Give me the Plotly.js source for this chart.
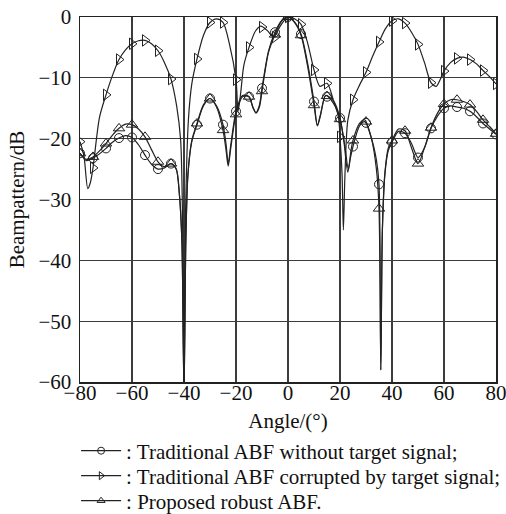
<!DOCTYPE html>
<html>
<head>
<meta charset="utf-8">
<script src="https://cdn.plot.ly/plotly-3.0.1.min.js"></script>
<style>html,body{margin:0;padding:0;background:#fff;}#chart{width:506px;height:514px;}</style>
</head>
<body>
<div id="chart"></div>
<script>
// Marker positions (every 5 degrees)
const markerAngles = [-80,-75,-70,-65,-60,-55,-50,-45,-40,-35,-30,-25,-20,-15,-10,-5,0,5,10,15,20,25,30,35,40,45,50,55,60,65,70,75,80];
const markerWithout = [-22.4,-23.2,-21.6,-19.9,-19.8,-22.7,-25.0,-24.1,null,-17.7,-13.4,-17.7,-15.5,-13.1,-11.7,-2.5,0,-2.8,-13.9,-13.1,-16.6,-21.3,-17.4,-27.5,-20.6,-19.1,-23.1,-18.3,-15.0,-14.8,-15.5,-17.5,-19.3];
const markerCorrupted = [-20.5,-24.8,-12.8,-7.0,-4.4,-3.85,-5.55,-10.2,null,-6.9,-0.9,-0.9,-10.3,-5.0,-1.65,-3.3,0,-1.2,-8.7,-10.9,-19.7,-13.6,-9.1,-4.1,-0.6,-1.0,-4.5,-10.8,-8.9,-6.8,-7.0,-8.8,-11.0];
const markerProposed = [-22.4,-23.0,-20.8,-18.3,-17.7,-19.7,-23.8,-24.1,null,-17.5,-13.4,-18.6,-16.0,-13.1,-12.2,-2.9,0,-3.0,-14.5,-13.0,-16.8,-20.3,-17.2,-31.5,-20.3,-18.7,-24.1,-18.2,-14.3,-13.6,-14.4,-16.9,-19.2];

// Curve samples
const lineAngleWithout = [-80,-77.5,-75,-72.5,-70,-67.5,-65,-62.5,-60,-57.5,-55,-52.5,-50,-47.5,-45,-43,-41.8,-40.8,-40,-39.3,-38.5,-37,-35,-32.5,-30,-27.5,-25,-23.8,-23,-22,-20,-17.5,-15,-13.5,-12.3,-11,-10,-7.5,-5,-2.5,0,2.5,5,7.5,10,11.3,12.5,14.5,17.5,20,21.5,23,24,25,27.5,29.5,32,34,35,35.7,36.3,37.3,38.6,40,42.5,45,47.5,50,52.5,55,57.5,60,62.5,65,67.5,70,72.5,75,77.5,80];
const lineDbWithout = [-22.4,-23.6,-23.2,-22.5,-21.6,-20.6,-19.9,-19.5,-19.8,-21.0,-22.7,-24.2,-25.0,-24.8,-24.1,-25.0,-29,-37,-62,-37,-26,-20.5,-17.7,-14.6,-13.4,-14.6,-17.7,-21,-24.1,-21,-15.5,-12.9,-13.1,-14.8,-15.7,-14.5,-11.7,-5.6,-2.5,-0.6,0,-0.8,-2.8,-7.5,-13.9,-17.8,-16,-12.9,-13.8,-16.6,-20.5,-25.5,-23.2,-21.3,-17.9,-17.2,-19.8,-23.5,-27.5,-58,-35,-25.7,-21.9,-20.6,-18.8,-19.1,-20.8,-23.1,-21.5,-18.3,-16.3,-15.0,-14.6,-14.8,-15.0,-15.5,-16.4,-17.5,-18.4,-19.3];

const lineAngleCorrupted = [-80,-78.5,-77,-76,-75,-72.5,-70,-67.5,-65,-62.5,-60,-57.5,-55,-52.5,-50,-47.5,-45,-42.8,-41.3,-40.6,-40,-39.4,-38.3,-37,-35,-32.5,-30,-27.5,-25,-22.5,-20,-19.2,-18.2,-17,-15,-12.5,-10.5,-8,-5.5,-3,0,2.5,5,7.5,10,12.3,15,17.4,19.4,20,20.8,21.3,21.9,23,25,27.5,30,32.5,35,37.5,40,42.5,45,47.5,50,52.5,55,57,58.5,60,62.5,65,67.5,70,72.5,75,77.5,80];
const lineDbCorrupted = [-20.5,-22.8,-28.2,-27.2,-24.8,-16.5,-12.8,-9.6,-7.0,-5.4,-4.4,-3.9,-3.85,-4.4,-5.55,-7.5,-10.2,-14.7,-20.2,-32,-62,-32,-16.9,-11,-6.9,-3.0,-0.9,-0.3,-0.9,-4.5,-10.3,-15.5,-12.5,-8,-5.0,-2.3,-1.5,-2.2,-3.3,-1.5,0,-0.3,-1.2,-4.2,-8.7,-11.4,-10.9,-13.6,-16.4,-19.7,-26,-35,-26,-17,-13.6,-11.2,-9.1,-6.5,-4.1,-1.9,-0.6,-0.3,-1.0,-2.5,-4.5,-7.5,-10.8,-11.4,-10.3,-8.9,-7.5,-6.8,-6.6,-7.0,-7.7,-8.8,-9.8,-11.0];

const lineAngleProposed = [-80,-77.5,-75,-72.5,-70,-67.5,-65,-62.5,-60,-57.5,-55,-52.5,-50,-47.5,-45,-43,-41.8,-40.8,-40,-39.3,-38.5,-37,-35,-32.5,-30,-27.5,-25,-23.8,-23,-22,-20,-17.5,-15,-13.5,-12.3,-11,-10,-7.5,-5,-2.5,0,2.5,5,7.5,10,11.3,12.5,14.5,17.5,20,21.8,23.2,24.2,25,27.5,29.5,32,34,35,35.7,36.3,37.3,38.6,40,42.5,45,47.5,50,52.5,55,57.5,60,62.5,65,67.5,70,72.5,75,77.5,80];
const lineDbProposed = [-22.4,-23.4,-23.0,-22.0,-20.8,-19.4,-18.3,-17.6,-17.7,-18.4,-19.7,-21.8,-23.8,-24.6,-24.1,-25.0,-29,-37,-62,-37,-26,-20.3,-17.5,-14.4,-13.4,-14.8,-18.6,-22,-24.5,-21.5,-16.0,-13.1,-13.1,-14.9,-15.8,-14.8,-12.2,-5.8,-2.9,-0.7,0,-0.9,-3.0,-8,-14.5,-17.9,-16.2,-12.9,-14.2,-16.8,-21,-25,-22,-20.3,-17.5,-16.9,-19.8,-25,-31.5,-58,-35,-25.5,-21.5,-20.3,-18.4,-18.7,-21.5,-24.1,-21.5,-18.2,-15.8,-14.3,-13.6,-13.6,-13.9,-14.4,-15.5,-16.9,-18.0,-19.2];

const seriesNames = [': Traditional ABF without target signal;', ': Traditional ABF corrupted by target signal;', ': Proposed robust ABF.'];
const xTickVals = [-80,-60,-40,-20,0,20,40,60,80];
const yTickVals = [-60,-50,-40,-30,-20,-10,0];

const ink = '#222';
const FONT = 'Liberation Serif, Times New Roman, serif';
const FS = 21;

function lineTrace(x, y) {
  return {x: x, y: y, type: 'scatter', mode: 'lines', showlegend: false, hoverinfo: 'skip',
    line: {color: ink, width: 1.2, shape: 'spline', smoothing: 0.8}};
}
function markerTrace(y, symbol, size) {
  return {x: markerAngles, y: y, type: 'scatter', mode: 'markers', showlegend: false,
    marker: {symbol: symbol, size: size, color: ink, line: {color: ink, width: 1}}};
}
function legendTrace(name, symbol, legendId) {
  return {x: [null], y: [null], type: 'scatter', mode: 'lines+markers', name: name, legend: legendId,
    line: {color: ink, width: 1.2}, marker: {symbol: symbol, size: 7, color: ink, line: {color: ink, width: 1}}};
}

const data = [
  lineTrace(lineAngleWithout, lineDbWithout),
  lineTrace(lineAngleCorrupted, lineDbCorrupted),
  lineTrace(lineAngleProposed, lineDbProposed),
  markerTrace(markerWithout, 'circle-open', 9),
  markerTrace(markerCorrupted, 'triangle-right-open', 10),
  markerTrace(markerProposed, 'triangle-up-open', 10),
  legendTrace(seriesNames[0], 'circle-open', 'legend'),
  legendTrace(seriesNames[1], 'triangle-right-open', 'legend2'),
  legendTrace(seriesNames[2], 'triangle-up-open', 'legend3')
];

const axisCommon = {
  showline: true, mirror: true, linecolor: ink, linewidth: 1.5,
  showgrid: true, gridcolor: '#3c3c3c', gridwidth: 1.3,
  zeroline: false, ticks: '', tickfont: {family: FONT, size: FS, color: '#111'},
  ticklabeloverflow: 'allow', automargin: false
};

function legendBox(y) {
  return {
    x: -0.0094, xanchor: 'left', y: y, yanchor: 'top',
    bgcolor: 'rgba(0,0,0,0)', borderwidth: 0,
    font: {family: FONT, size: FS, color: '#111'},
    itemwidth: 40
  };
}

const layout = {
  width: 506, height: 514,
  margin: {l: 80, r: 10, t: 17, b: 132, autoexpand: false},
  paper_bgcolor: '#fff', plot_bgcolor: '#fff',
  font: {family: FONT, size: FS, color: '#111'},
  xaxis: Object.assign({}, axisCommon, {
    range: [-80, 80], tickvals: xTickVals, ticklabelstandoff: -9,
    title: {text: 'Angle/(°)', font: {family: FONT, size: FS, color: '#111'}, standoff: 9}
  }),
  yaxis: Object.assign({}, axisCommon, {
    range: [-60, 0], tickvals: yTickVals, ticklabelstandoff: 3,
    title: {text: 'Beampattern/dB', font: {family: FONT, size: FS, color: '#111'}, standoff: 8}
  }),
  showlegend: true,
  legend: legendBox(-0.133),
  legend2: legendBox(-0.2015),
  legend3: legendBox(-0.270)
};

Plotly.newPlot('chart', data, layout, {displayModeBar: false, staticPlot: true});
</script>
</body>
</html>
